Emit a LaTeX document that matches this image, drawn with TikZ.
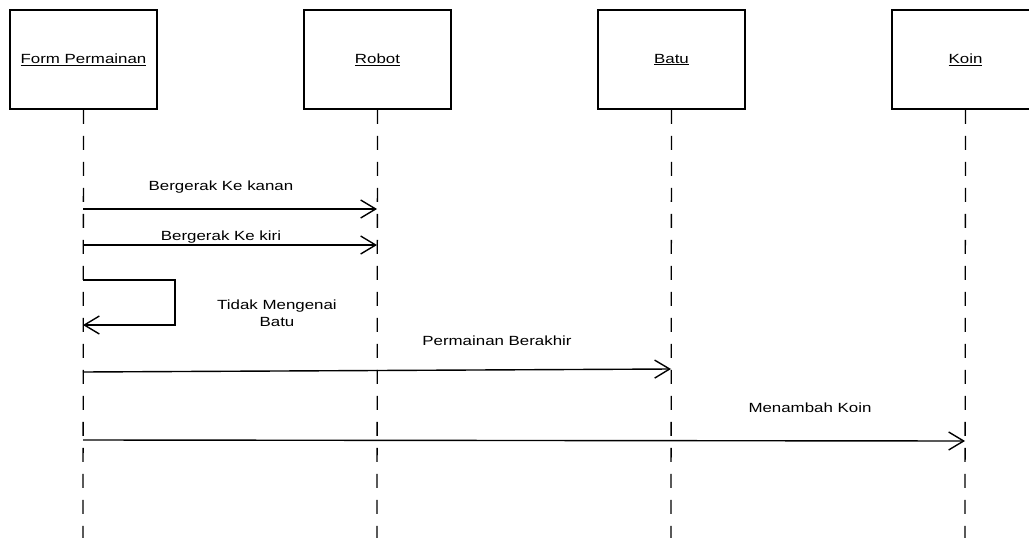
\documentclass[tikz,border=0pt]{standalone}
\usepackage{fontspec}
\setmainfont{Liberation Sans}[FakeStretch=1.27]
\usetikzlibrary{arrows.meta}
\begin{document}
\begin{tikzpicture}[x=1pt,y=-1pt,
  obj/.style={draw,line width=1.7pt,minimum width=147pt,minimum height=99pt,inner sep=0pt,font=\fontsize{13.3}{16}\selectfont},
  life/.style={line width=1.3pt,dash pattern=on 14pt off 12pt},
  msg/.style={line width=1.4pt,-{Straight Barb[length=15pt,width=18pt,line width=1.4pt]}},
  lbl/.style={font=\fontsize{13.3}{17}\selectfont,inner sep=0pt,align=center}]
\useasboundingbox (0,0) rectangle (1029,538);
\begin{scope}
\clip (0,0) rectangle (1029,538);
\node[obj] (fp) at (83.5,59.5) {\underline{Form Permainan}};
\node[obj] (rb) at (377.5,59.5) {\underline{Robot}};
\node[obj] (bt) at (671.5,59.5) {\underline{Batu}};
\node[obj] (kn) at (965.5,59.5) {\underline{Koin}};
\coordinate (fpE) at (83,538);
\coordinate (rbE) at (377,538);
\coordinate (btE) at (671,538);
\coordinate (knE) at (965,538);
\draw[life] (fp.south) -- (fpE);
\draw[life] (rb.south) -- (rbE);
\draw[life] (bt.south) -- (btE);
\draw[life] (kn.south) -- (knE);
\end{scope}
% messages
\coordinate (a1) at (83,209); \coordinate (b1) at (377,209);
\draw[msg] (a1) -- (b1);
\node[lbl] (l1) at (221,187) {Bergerak Ke kanan};
\coordinate (a2) at (83,245); \coordinate (b2) at (377,245);
\draw[msg] (a2) -- (b2);
\node[lbl] (l2) at (221,237) {Bergerak Ke kiri};
\coordinate (s1) at (83,280); \coordinate (s2) at (83,325);
\draw[msg] (s1) -- (175,280) -- (175,325) -- (s2);
\node[lbl] (l3) at (277,313) {Tidak Mengenai\\Batu};
\coordinate (a4) at (83,372); \coordinate (b4) at (671,369);
\draw[msg] (a4) -- (b4);
\node[lbl] (l4) at (497,341) {Permainan Berakhir};
\coordinate (a5) at (83,440); \coordinate (b5) at (965,441);
\draw[msg] (a5) -- (b5);
\node[lbl] (l5) at (810,408) {Menambah Koin};
\end{tikzpicture}
\end{document}
